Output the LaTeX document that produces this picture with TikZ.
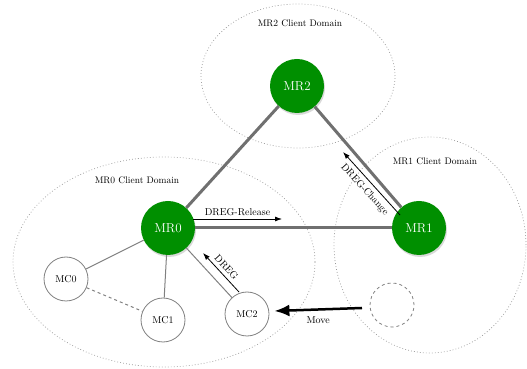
\documentclass[tikz,border=0pt]{standalone}
\usepackage{tikz}
\usetikzlibrary{positioning, arrows.meta, shadows}
\definecolor{mrgreen}{RGB}{0,143,0}
\definecolor{edgegray}{RGB}{112,112,112}

\begin{document}
\begin{tikzpicture}[
    x=1pt, y=1pt,
    router/.style={circle, fill=mrgreen, text=white, minimum size=54pt, inner sep=0pt, font=\fontsize{13}{15}\selectfont, drop shadow={opacity=0.3, shadow xshift=1pt, shadow yshift=-2pt}},
    client/.style={circle, draw=gray, line width=0.8pt, fill=white, minimum size=44pt, inner sep=0pt, font=\normalsize},
    ghostclient/.style={circle, draw=gray, dashed, line width=0.8pt, minimum size=44pt},
    clientdomain/.style={draw=gray!80, dash pattern=on 0.8pt off 2.2pt, line width=0.7pt},
    dlabel/.style={font=\fontsize{9.5}{11}\selectfont},
    backbone/.style={draw=edgegray, line width=3pt},
    access/.style={draw=gray, line width=1pt},
    msg/.style={-{Latex[length=7pt, width=5pt]}, line width=0.8pt},
    movearrow/.style={-{Latex[length=15pt, width=12pt]}, line width=2.5pt}
]
\useasboundingbox (0,0) rectangle (527,369);

% Client domains
\draw[clientdomain] (298,293) ellipse [x radius=97pt, y radius=72pt];
\draw[clientdomain] (430,124) ellipse [x radius=96pt, y radius=108pt];
\draw[clientdomain] (164,107) ellipse [x radius=151pt, y radius=105pt];
\node[dlabel] (dom2) at (300,346) {MR2 Client Domain};
\node[dlabel] (dom1) at (435,208) {MR1 Client Domain};
\node[dlabel] (dom0) at (137,189) {MR0 Client Domain};

% Mesh routers
\node[router] (mr2) at (297,283) {MR2};
\node[router] (mr1) at (419,141) {MR1};
\node[router] (mr0) at (168,141) {MR0};

% Mesh clients
\node[client] (mc0) at (66,90) {MC0};
\node[client] (mc1) at (163,49) {MC1};
\node[client] (mc2) at (247,55) {MC2};
\node[ghostclient] (old) at (392,64) {};

% Edges
\draw[backbone] (mr0) -- (mr2);
\draw[backbone] (mr2) -- (mr1);
\draw[backbone] (mr0) -- (mr1);
\draw[access] (mr0) -- (mc0);
\draw[access] (mr0) -- (mc1);
\draw[access] (mr0) -- (mc2);
\draw[access, dashed] (mc0) -- (mc1);

% Messages
\coordinate (relS) at (193,150);
\coordinate (relE) at (282,150);
\draw[msg] (relS) -- node[above] {DREG-Release} (relE);

\coordinate (chgS) at (400,154);
\coordinate (chgE) at (343,217);
\draw[msg] (chgS) -- node[sloped, below=1pt] {DREG-Change} (chgE);

\coordinate (regS) at (239,77);
\coordinate (regE) at (203,116);
\draw[msg] (regS) -- node[sloped, above] {DREG} (regE);

% Move
\coordinate (movS) at (362,61);
\draw[movearrow] (movS) -- node[below=3pt] {Move} ([xshift=5pt, yshift=3pt]mc2.east);

\end{tikzpicture}
\end{document}
